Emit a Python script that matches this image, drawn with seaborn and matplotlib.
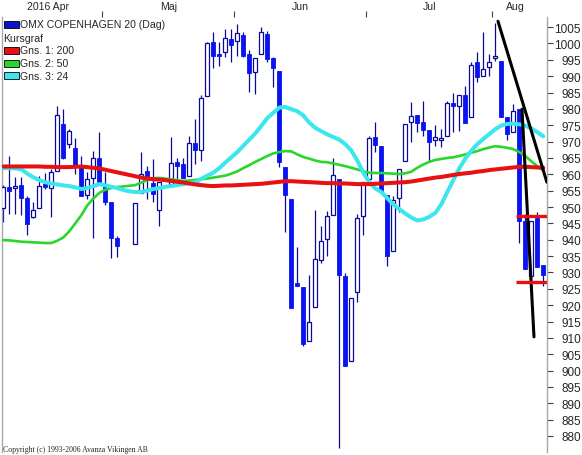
import numpy as np
import pandas as pd
import matplotlib
matplotlib.use('Agg')
import matplotlib.pyplot as plt
from matplotlib.patches import Rectangle
import seaborn as sns

# trading days (weekday slots), holidays are left empty
dates = pd.bdate_range('2016-04-07', '2016-08-11')

# daily OHLC for OMX Copenhagen 20
open_ = [949.7, 956.1, 955.8, 956.7, 952.7, 946.9, 949.7, 957.0, 955.8, 961.0,
         975.4, 969.2, 968.0, 962.8, 953.7, 958.9, 965.0, 957.0, 951.5, 940.5,
         None, None, 938.7, 954.3, 961.0, 957.3, 949.1, None, 957.0, 963.7,
         963.1, 959.5, 969.5, 967.4, 983.9, 1000.4, 996.7, 997.4, 1001.3, 1000.7,
         1002.6, 996.7, 991.2, 996.7, 1002.9, 995.5, 991.5, 962.2, 952.4, 926.8,
         925.6, 909.0, 919.4, 933.8, 940.2, 947.5, 958.5, 928.9, 902.9, 924.0,
         947.2, 958.5, 971.4, 968.6, 953.7, 936.5, 952.7, 964.0, 976.0, 978.1,
         976.0, 973.5, 970.5, 970.6, 971.7, 981.8, 980.9, 984.2, 977.5, 994.3,
         990.0, 992.8, 995.5, 994.6, 977.5, 972.9, 979.9, 945.7, 928.9, 946.6,
         932.2]
high = [956.7, 965.6, 959.2, 959.2, 953.4, 951.5, 959.4, 960.5, 961.6, 980.9,
        979.9, 974.0, 971.1, 965.5, 960.7, 967.2, 972.9, 960.7, 951.5, 941.2,
        None, None, 951.2, 966.8, 962.5, 964.7, 957.6, None, 971.4, 965.0,
        965.0, 971.7, 976.9, 984.2, 1000.4, 1003.5, 1000.4, 1004.4, 1004.4, 1005.9,
        1003.5, 998.0, 995.5, 1005.0, 1003.8, 996.0, 991.5, 962.2, 952.4, 937.8,
        925.6, 929.2, 949.1, 944.2, 948.8, 965.0, 958.5, 929.8, 922.2, 947.9,
        957.6, 971.7, 976.0, 968.6, 953.7, 953.4, 961.6, 975.4, 982.1, 978.1,
        982.4, 973.5, 975.1, 973.8, 982.4, 984.8, 984.2, 987.0, 994.3, 997.4,
        1003.5, 996.7, 1006.2, 994.6, 977.5, 981.5, 979.9, 948.0, 945.7, 948.5,
        932.2]
low = [945.4, 947.9, 947.9, 947.5, 941.4, 946.5, 949.7, 955.5, 946.9, 961.0,
       964.7, 968.0, 960.1, 953.4, 952.4, 940.5, 957.0, 950.5, 934.4, 934.7,
       None, None, 938.7, 954.3, 952.4, 951.5, 944.2, None, 957.0, 956.4,
       958.9, 959.5, 963.1, 964.0, 983.9, 992.5, 993.1, 996.0, 994.3, 996.1,
       996.0, 985.1, 984.5, 996.7, 994.3, 986.7, 962.2, 942.4, 919.1, 925.9,
       907.5, 909.0, 919.4, 932.9, 935.0, 947.5, 876.3, 901.4, 902.9, 921.0,
       941.4, 958.5, 966.8, 954.9, 932.0, 936.5, 948.5, 964.0, 969.9, 972.9,
       971.7, 963.7, 968.6, 968.3, 971.7, 972.9, 973.2, 975.7, 977.5, 988.2,
       990.0, 990.0, 994.5, 977.5, 970.5, 972.9, 939.0, 931.0, 928.0, 931.6,
       925.9]
close = [956.1, 954.9, 956.4, 952.7, 944.8, 949.1, 956.4, 956.1, 960.7, 978.1,
         965.0, 973.2, 962.8, 953.4, 958.5, 965.0, 957.0, 951.5, 940.5, 938.1,
         None, None, 951.2, 960.1, 959.5, 954.0, 957.6, None, 963.4, 962.5,
         958.9, 969.5, 967.4, 983.3, 1000.1, 996.1, 996.1, 1001.6, 999.5, 1003.2,
         996.1, 990.9, 995.5, 1003.5, 995.2, 992.5, 963.7, 953.7, 919.1, 925.9,
         908.1, 914.8, 934.1, 939.6, 947.2, 959.8, 929.2, 901.4, 922.2, 946.6,
         957.6, 971.1, 968.9, 954.9, 935.0, 952.1, 961.6, 975.4, 977.8, 975.7,
         973.5, 969.9, 971.4, 971.0, 981.8, 980.9, 984.2, 975.7, 993.4, 989.7,
         992.2, 994.3, 996.1, 977.5, 972.3, 979.3, 945.7, 931.0, 945.7, 931.6,
         929.2]

# moving averages (Gns. 1: 200, Gns. 2: 50, Gns. 3: 24)
ma200 = [962.4, 962.4, 962.4, 962.4, 962.4, 962.4, 962.4, 962.3, 962.3, 962.2,
         962.2, 962.2, 962.3, 962.4, 962.2, 962.0, 961.8, 961.4, 961.0, 960.6,
         960.2, 959.8, 959.4, 959.0, 958.7, 958.5, 958.4, 958.2, 958.0, 957.7,
         957.5, 957.2, 956.9, 956.7, 956.5, 956.4, 956.5, 956.6, 956.6, 956.7,
         956.8, 956.9, 957.0, 957.1, 957.3, 957.5, 957.7, 957.9, 957.9, 957.8,
         957.7, 957.6, 957.5, 957.4, 957.3, 957.3, 957.2, 957.2, 957.1, 957.0,
         957.0, 957.0, 957.1, 957.2, 957.3, 957.4, 957.5, 957.6, 957.8, 958.1,
         958.4, 958.7, 959.0, 959.2, 959.5, 959.8, 960.1, 960.3, 960.5, 960.8,
         961.0, 961.3, 961.5, 961.7, 961.9, 962.1, 962.3, 962.3, 962.2, 962.1,
         962.0]
ma50 = [939.9, 939.8, 939.6, 939.4, 939.3, 939.2, 939.1, 939.0, 939.0, 939.7,
        940.7, 942.6, 945.0, 947.5, 950.5, 952.6, 954.3, 955.3, 955.8, 956.1,
        956.3, 956.5, 956.7, 957.5, 958.2, 958.8, 958.9, 958.7, 958.5, 958.2,
        958.0, 958.1, 958.3, 958.5, 958.7, 959.0, 959.3, 959.6, 960.2, 960.9,
        961.9, 962.8, 963.8, 964.7, 965.6, 966.4, 966.8, 967.1, 967.0, 966.1,
        965.3, 964.8, 964.2, 963.8, 963.7, 963.3, 962.9, 962.5, 962.0, 961.5,
        960.9, 960.5, 960.4, 960.4, 960.3, 960.2, 960.1, 960.3, 960.8, 962.0,
        963.0, 963.8, 964.4, 964.7, 965.0, 965.2, 965.6, 966.1, 966.6, 967.1,
        967.7, 968.2, 968.6, 968.4, 968.1, 967.7, 966.8, 965.6, 964.0, 962.5,
        961.2]
ma24 = [961.9, 961.9, 961.8, 961.5, 960.2, 959.1, 958.2, 957.6, 957.2, 956.9,
        956.6, 956.4, 956.0, 955.5, 955.8, 956.4, 957.0, 956.6, 956.2, 955.8,
        955.2, 954.8, 954.6, 954.6, 955.0, 955.5, 955.8, 956.2, 956.4, 956.7,
        957.0, 957.3, 957.6, 958.6, 959.6, 960.5, 961.9, 963.6, 965.2, 966.8,
        968.7, 970.6, 972.5, 974.8, 977.2, 978.8, 980.4, 980.6, 979.9, 979.3,
        978.0, 975.8, 974.2, 973.2, 972.2, 971.4, 970.6, 969.2, 967.3, 964.2,
        960.5, 957.6, 955.7, 954.6, 952.7, 950.8, 949.4, 948.0, 946.8, 945.9,
        946.2, 947.0, 948.2, 950.8, 954.6, 958.2, 961.8, 964.8, 967.2, 969.2,
        970.8, 972.3, 973.8, 974.9, 975.4, 975.5, 975.3, 974.9, 974.0, 972.9,
        971.6]

month_labels = ['2016 Apr', 'Maj', 'Jun', 'Jul', 'Aug']
month_label_pos = [7.5, 27.5, 49.5, 71.0, 85.3]
yticks = list(range(880, 1006, 5))

# hand drawn trend lines (slot, kurs) and support levels
trend1 = ([82.45, 90.6], [1006.8, 957.6])
trend2 = ([86.45, 88.45], [979.9, 910.3])
levels = [947.2, 927.1]
level_span = (85.4, 90.6)

W, H = 582, 456
sns.set_style('white')
plt.rcParams['font.family'] = ['Liberation Sans', 'DejaVu Sans']

fig = plt.figure(figsize=(W / 100, H / 100), dpi=100)
ax = fig.add_axes([2 / W, 1 - 453 / H, 545 / W, 435 / H])

slots = np.arange(len(dates))
df = pd.DataFrame({'x': slots, 'open': open_, 'high': high,
                   'low': low, 'close': close}, dtype=float).dropna()
up = df[df['close'] >= df['open']]
down = df[df['close'] < df['open']]

edge = '#0a0a96'
fill = '#0a14f0'
ax.vlines(df['x'], df['low'], df['high'], color=edge, lw=0.9, zorder=2)
ax.bar(up['x'], up['close'] - up['open'], bottom=up['open'], width=0.7,
       color='white', edgecolor=edge, lw=0.9, zorder=3)
ax.bar(down['x'], down['open'] - down['close'], bottom=down['close'], width=0.7,
       color=fill, edgecolor=fill, lw=0.6, zorder=3)

sns.lineplot(x=slots, y=ma50, color='#2ad62a', lw=1.9, ax=ax, zorder=4)
sns.lineplot(x=slots, y=ma200, color='#e81010', lw=2.9, ax=ax, zorder=5)
sns.lineplot(x=slots, y=ma24, color='#3ce6ee', lw=2.9, ax=ax, zorder=4)

ax.plot(*trend1, color='black', lw=2.2, zorder=6)
ax.plot(*trend2, color='black', lw=2.2, zorder=6)
ax.hlines(levels, *level_span, color='#e81010', lw=2.4, zorder=6)

ax.set_xlim(-0.22, 90.62)
ax.set_ylim(875.1, 1008.1)

# right price axis
ax.yaxis.tick_right()
ax.set_yticks(yticks)
ax.set_yticklabels([str(t) for t in yticks])
ax.tick_params(axis='y', which='both', right=True, left=False, length=4,
               width=0.8, color='#404040', labelsize=8.5, pad=20.5)
for lbl in ax.get_yticklabels():
    lbl.set_horizontalalignment('right')

# month axis on top
ax.xaxis.tick_top()
bounds = [i - 0.5 for i in range(1, len(dates)) if dates[i].month != dates[i - 1].month]
ax.set_xticks(bounds)
ax.set_xticklabels([''] * len(bounds))
ax.set_xticks(month_label_pos, minor=True)
ax.set_xticklabels(month_labels, minor=True)
ax.tick_params(axis='x', which='major', top=True, bottom=False, length=4,
               width=0.8, color='#404040')
ax.tick_params(axis='x', which='minor', top=True, bottom=False, length=0,
               labelsize=7.6, pad=4.5)
ax.set_xlabel('')
ax.set_ylabel('')

for s in ['top', 'bottom']:
    ax.spines[s].set_visible(False)
for s in ['left', 'right']:
    ax.spines[s].set_color('#a8a8a8')
    ax.spines[s].set_linewidth(1.0)

# legend box drawn like the original
entries = [('OMX COPENHAGEN 20 (Dag)', '#0a14c8'), ('Kursgraf', None),
           ('Gns. 1: 200', '#e81010'), ('Gns. 2: 50', '#2ad62a'),
           ('Gns. 3: 24', '#3ce6ee')]
rows = [25, 38.5, 51.5, 64, 76.5]
for (label, col), yc in zip(entries, rows):
    if col is not None:
        fig.add_artist(Rectangle((3.5 / W, 1 - (yc + 3.5) / H), 15 / W, 7 / H,
                                 transform=fig.transFigure, facecolor=col,
                                 edgecolor='black', lw=0.6))
        tx = 20.5
    else:
        tx = 3.5
    fig.text(tx / W, 1 - yc / H, label, fontsize=7.6, va='center', ha='left')

fig.text(3 / W, 1 - 450 / H, 'Copyright (c) 1993-2006 Avanza Vikingen AB',
         fontsize=5.6, family=['Liberation Serif', 'DejaVu Serif'],
         va='center', ha='left')

fig.savefig('out.png', dpi=100)
